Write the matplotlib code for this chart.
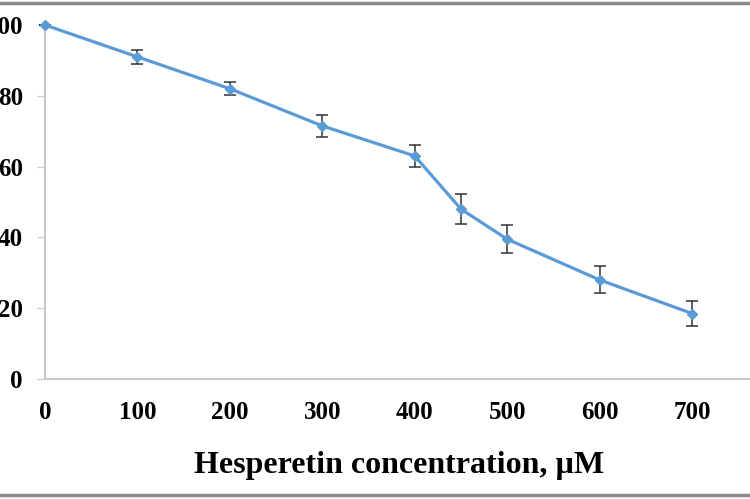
import matplotlib
matplotlib.use("Agg")
import matplotlib.pyplot as plt
from matplotlib.lines import Line2D

concentration = [0, 100, 200, 300, 400, 450, 500, 600, 700]
viability = [100, 91, 82, 71.5, 63, 48, 39.5, 28, 18.5]
errors = [0, 2, 1.8, 3, 3.2, 4.3, 4, 3.8, 3.4]
xticks = [0, 100, 200, 300, 400, 500, 600, 700]
yticks = [0, 20, 40, 60, 80, 100]
xlabel = "Hesperetin concentration, µM"

W, H = 750, 499
fig = plt.figure(figsize=(W / 100, H / 100), dpi=100)
fig.patch.set_facecolor("white")

# axes in pixel coordinates (left=45, right beyond the edge, top=25, bottom=379)
left, right, top, bottom = 45, 766, 25, 379
ax = fig.add_axes([left / W, 1 - bottom / H, (right - left) / W, (bottom - top) / H])

blue = "#5b9bd5"
ax.errorbar(concentration, viability, yerr=errors, color=blue, lw=2.3,
            marker="D", ms=5, mfc=blue, mec=blue,
            ecolor="#333333", elinewidth=1.1, capsize=4, capthick=1.1,
            clip_on=False, zorder=3)

ax.set_xlim(0, 780)
ax.set_ylim(0, 100)
ax.set_xticks(xticks)
ax.set_yticks(yticks)

serif = ["Liberation Serif", "DejaVu Serif"]
ax.set_xticklabels([str(v) for v in xticks], family=serif, weight="bold", fontsize=18)
ax.set_yticklabels([str(v) for v in yticks], family=serif, weight="bold", fontsize=18)

for s in ["top", "right"]:
    ax.spines[s].set_visible(False)
for s in ["left", "bottom"]:
    ax.spines[s].set_color("#c8c8c8")
    ax.spines[s].set_linewidth(1.5)

ax.tick_params(axis="x", length=0, pad=16)
ax.tick_params(axis="y", length=6, width=1, color="#d0d0d0", pad=10)

fig.text(399 / W, 1 - 465 / H, xlabel, ha="center", va="center",
         family=serif, weight="bold", fontsize=23)

# frame lines at top and bottom
fig.add_artist(Line2D([0, 1], [1 - 3 / H, 1 - 3 / H], transform=fig.transFigure,
                      color="#8c8c8c", lw=2.5))
fig.add_artist(Line2D([0, 1], [1 - 495 / H, 1 - 495 / H], transform=fig.transFigure,
                      color="#8c8c8c", lw=2.5))

fig.savefig("out.png", dpi=100)
